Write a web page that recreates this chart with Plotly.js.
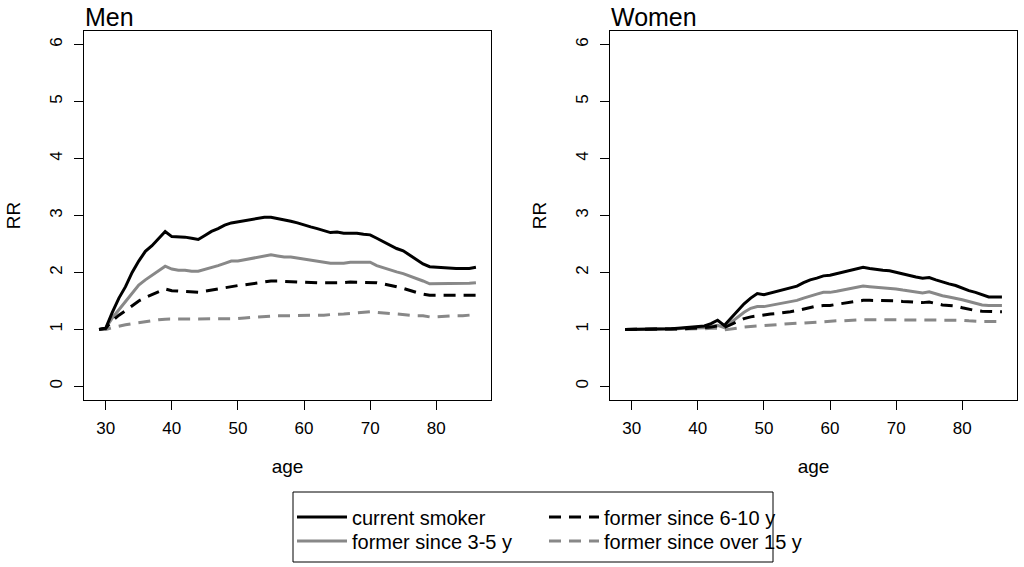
<!DOCTYPE html>
<html>
<head>
<meta charset="utf-8">
<script src="https://cdn.plot.ly/plotly-3.0.1.min.js"></script>
<style>
  html, body { margin: 0; padding: 0; background: #fff; }
  #chart { width: 1024px; height: 567px; }
</style>
</head>
<body>
<div id="chart"></div>
<script>
// ages 29..86, one value per year
const ages = [29,30,31,32,33,34,35,36,37,38,39,40,41,42,43,44,45,46,47,48,49,50,51,52,53,54,55,56,57,
              58,59,60,61,62,63,64,65,66,67,68,69,70,71,72,73,74,75,76,77,78,79,80,81,82,83,84,85,86];

// men
const menCurrent = [1.00,1.02,1.30,1.55,1.75,2.00,2.20,2.37,2.47,2.60,2.72,2.63,2.63,2.62,2.60,2.58,2.65,2.72,2.77,
                    2.83,2.87,2.89,2.90,2.92,2.94,2.97,2.97,2.95,2.92,2.90,2.87,2.83,2.80,2.77,2.73,2.70,2.71,2.69,
                    2.69,2.69,2.67,2.66,2.60,2.54,2.48,2.42,2.38,2.30,2.22,2.15,2.10,2.09,2.09,2.08,2.07,2.07,2.07,2.09];
const men3to5 = [1.00,1.02,1.20,1.35,1.50,1.65,1.78,1.87,1.95,2.03,2.11,2.06,2.04,2.04,2.02,2.02,2.05,2.08,2.12,
                 2.16,2.20,2.20,2.22,2.24,2.26,2.29,2.31,2.29,2.27,2.27,2.25,2.23,2.21,2.19,2.18,2.16,2.16,2.16,
                 2.18,2.18,2.18,2.18,2.12,2.08,2.04,2.01,1.98,1.94,1.89,1.85,1.80,1.80,1.80,1.80,1.80,1.80,1.81,1.82];
const men6to10 = [1.00,1.02,1.15,1.25,1.33,1.42,1.50,1.56,1.61,1.66,1.71,1.68,1.67,1.67,1.66,1.65,1.67,1.69,1.71,
                  1.74,1.76,1.77,1.78,1.80,1.81,1.83,1.85,1.85,1.84,1.84,1.83,1.83,1.82,1.82,1.82,1.82,1.81,1.82,
                  1.83,1.83,1.83,1.83,1.82,1.80,1.78,1.75,1.72,1.68,1.65,1.62,1.60,1.60,1.60,1.60,1.60,1.60,1.60,1.60];
const menOver15 = [1.00,1.00,1.03,1.06,1.08,1.10,1.12,1.14,1.15,1.17,1.18,1.18,1.18,1.18,1.18,1.18,1.18,1.18,1.18,
                   1.18,1.19,1.19,1.20,1.21,1.22,1.23,1.24,1.24,1.24,1.24,1.24,1.24,1.24,1.24,1.25,1.26,1.26,1.27,
                   1.28,1.29,1.30,1.31,1.30,1.29,1.27,1.26,1.26,1.25,1.24,1.24,1.22,1.22,1.23,1.23,1.24,1.24,1.25,1.26];

// women
const womenCurrent = [1.00,1.00,1.00,1.00,1.01,1.01,1.01,1.01,1.02,1.03,1.03,1.04,1.06,1.10,1.16,1.07,1.20,1.33,1.45,
                      1.55,1.63,1.61,1.64,1.67,1.70,1.72,1.76,1.82,1.87,1.90,1.94,1.95,1.98,2.01,2.04,2.07,2.09,2.07,
                      2.05,2.04,2.03,2.00,1.97,1.94,1.92,1.90,1.91,1.87,1.83,1.80,1.77,1.72,1.68,1.65,1.61,1.57,1.57,1.57];
const women3to5 = [1.00,1.00,1.00,1.00,1.00,1.00,1.01,1.01,1.01,1.02,1.02,1.02,1.03,1.05,1.07,1.03,1.12,1.22,1.30,
                   1.37,1.40,1.40,1.42,1.44,1.46,1.48,1.51,1.55,1.59,1.62,1.65,1.65,1.67,1.69,1.72,1.74,1.76,1.75,
                   1.74,1.73,1.73,1.71,1.69,1.67,1.65,1.64,1.66,1.62,1.59,1.57,1.55,1.52,1.49,1.46,1.43,1.42,1.42,1.42];
const women6to10 = [1.00,1.00,1.00,1.00,1.00,1.00,1.00,1.01,1.01,1.01,1.02,1.02,1.03,1.04,1.06,1.03,1.08,1.14,1.19,
                    1.22,1.24,1.25,1.27,1.28,1.29,1.31,1.33,1.36,1.39,1.41,1.42,1.42,1.44,1.46,1.48,1.50,1.51,1.51,
                    1.51,1.51,1.50,1.50,1.49,1.48,1.47,1.47,1.48,1.45,1.43,1.42,1.41,1.38,1.35,1.33,1.32,1.31,1.31,1.31];
const womenOver15 = [1.00,1.00,1.00,1.00,1.00,1.00,1.00,1.00,1.00,1.00,1.00,1.01,1.01,1.02,1.02,0.99,1.01,1.03,1.04,
                     1.05,1.06,1.07,1.08,1.09,1.09,1.10,1.11,1.11,1.12,1.13,1.13,1.14,1.15,1.15,1.16,1.16,1.17,1.17,
                     1.17,1.17,1.17,1.17,1.17,1.17,1.17,1.17,1.17,1.17,1.17,1.17,1.17,1.16,1.15,1.14,1.14,1.14,1.14,1.14];

const seriesNames = ['current smoker', 'former since 3-5 y', 'former since 6-10 y', 'former since over 15 y'];
const FONT = 'Liberation Sans, Arial, sans-serif';
const GREY = '#888888';

// one legend per entry so the 2x2 grid sits exactly like the original
const styles = [
    { color: '#000000', dash: 'solid', legend: 'legend' },
    { color: GREY, dash: 'solid', legend: 'legend3' },
    { color: '#000000', dash: '12px,8px', legend: 'legend2' },
    { color: GREY, dash: '12px,8px', legend: 'legend4' }
];
const menSeries = [menCurrent, men3to5, men6to10, menOver15];
const womenSeries = [womenCurrent, women3to5, women6to10, womenOver15];

const data = [];
// greys first so black lines sit on top
[3, 1, 2, 0].forEach((i) => {
    data.push({
        x: ages, y: menSeries[i], type: 'scatter', mode: 'lines',
        name: seriesNames[i], legendgroup: seriesNames[i],
        legend: styles[i].legend,
        line: { color: styles[i].color, dash: styles[i].dash, width: 3 },
        xaxis: 'x', yaxis: 'y'
    });
    data.push({
        x: ages, y: womenSeries[i], type: 'scatter', mode: 'lines',
        name: seriesNames[i], legendgroup: seriesNames[i], showlegend: false,
        legend: styles[i].legend,
        line: { color: styles[i].color, dash: styles[i].dash, width: 3 },
        xaxis: 'x2', yaxis: 'y2'
    });
});

const xBase = {
    range: [26.72, 88.28], tickvals: [30, 40, 50, 60, 70, 80],
    showline: true, mirror: true, linecolor: '#000', linewidth: 1,
    ticks: 'outside', ticklen: 9, tickcolor: '#000', tickwidth: 1,
    showgrid: false, zeroline: false, fixedrange: true,
    tickfont: { family: FONT, size: 17, color: '#000' },
    ticklabelstandoff: 4,
    title: { text: 'age', font: { family: FONT, size: 19, color: '#000' }, standoff: 22 }
};
const yBase = {
    range: [-0.24, 6.24], tickvals: [0, 1, 2, 3, 4, 5, 6],
    showline: true, mirror: true, linecolor: '#000', linewidth: 1,
    ticks: 'outside', ticklen: 9, tickcolor: '#000', tickwidth: 1,
    showgrid: false, zeroline: false, fixedrange: true,
    tickangle: -90,
    tickfont: { family: FONT, size: 17, color: '#000' },
    ticklabelstandoff: 5,
    title: { text: 'RR', font: { family: FONT, size: 19, color: '#000' }, standoff: 21 }
};

const legendBase = {
    orientation: 'v', xanchor: 'left', yanchor: 'middle',
    borderwidth: 0, bgcolor: 'rgba(0,0,0,0)',
    font: { family: FONT, size: 20, color: '#000' },
    itemwidth: 50
};
const row1 = (567 - 517) / 567;
const row2 = (567 - 541) / 567;

const layout = {
    width: 1024, height: 567,
    margin: { l: 0, r: 0, t: 0, b: 0, autoexpand: false },
    paper_bgcolor: '#fff', plot_bgcolor: '#fff',
    font: { family: FONT, color: '#000' },
    xaxis: Object.assign({}, xBase, { domain: [84 / 1024, 491 / 1024], anchor: 'y' }),
    yaxis: Object.assign({}, yBase, { domain: [167 / 567, 536 / 567], anchor: 'x' }),
    xaxis2: Object.assign({}, xBase, { domain: [610 / 1024, 1017 / 1024], anchor: 'y2' }),
    yaxis2: Object.assign({}, yBase, { domain: [167 / 567, 536 / 567], anchor: 'x2' }),
    showlegend: true,
    legend: Object.assign({}, legendBase, { x: 292 / 1024, y: row1 }),
    legend2: Object.assign({}, legendBase, { x: 544 / 1024, y: row1 }),
    legend3: Object.assign({}, legendBase, { x: 292 / 1024, y: row2 }),
    legend4: Object.assign({}, legendBase, { x: 544 / 1024, y: row2 }),
    shapes: [
        // frame around the legend grid
        { type: 'rect', xref: 'paper', yref: 'paper', x0: 293 / 1024, x1: 773 / 1024,
          y0: 5 / 567, y1: 75 / 567, line: { color: '#000', width: 1 }, fillcolor: 'rgba(0,0,0,0)' }
    ],
    annotations: [
        { text: 'Men', xref: 'paper', yref: 'paper', x: 83 / 1024, y: 550 / 567, xanchor: 'left', yanchor: 'middle',
          showarrow: false, font: { family: FONT, size: 25, color: '#000' } },
        { text: 'Women', xref: 'paper', yref: 'paper', x: 609 / 1024, y: 550 / 567, xanchor: 'left', yanchor: 'middle',
          showarrow: false, font: { family: FONT, size: 25, color: '#000' } }
    ]
};

Plotly.newPlot('chart', data, layout, { staticPlot: true, displayModeBar: false });
</script>
</body>
</html>
